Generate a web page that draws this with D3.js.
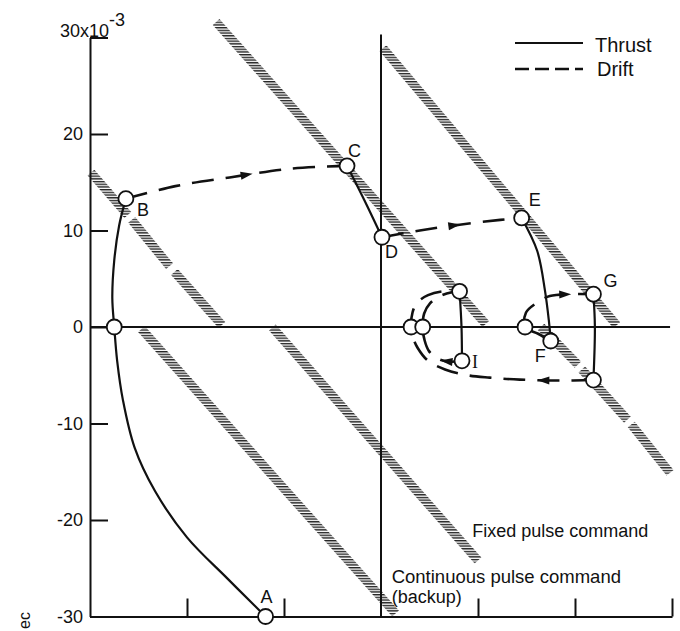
<!DOCTYPE html>
<html>
<head>
  <meta charset="UTF-8">
  <style>
    body { margin: 0; background: #fff; }
    svg { display: block; }
    text { font-family: "Liberation Sans", Arial, sans-serif; fill: #111; }
    .axis path, .axis line { stroke: #111; stroke-width: 2px; }
    .thrust { fill: none; stroke: #111; stroke-width: 2.2px; }
    .drift { fill: none; stroke: #111; stroke-width: 2.6px; stroke-dasharray: 22 12; }
    .pt { fill: #fff; stroke: #111; stroke-width: 1.8px; }
  </style>
</head>
<body>
  <svg width="680" height="631"></svg>
  <script src="https://cdn.jsdelivr.net/npm/d3@7"></script>
  <script>
    // ticks
    const xTicks = [-20, -10, 10, 20, 30];
    const yTicks = [-30, -20, -10, 0, 10, 20, 30];
    const yTickLabels = ['-30', '-20', '-10', '0', '10', '20', ''];

    // thrust (solid) and drift (dashed) trajectories, units of 10^-3
    const thrustAB = [[-11.9, -30], [-12.5, -29.4], [-15.9, -26.0], [-20.0, -21.8], [-23.3, -17.0],
      [-25.4, -12.5], [-26.6, -7.6], [-27.2, -3.5], [-27.5, 0], [-27.7, 3.0], [-27.5, 6.9],
      [-27.0, 10.5], [-26.3, 13.3]];
    const driftBC = [[-26.3, 13.3], [-21.2, 14.6], [-15.6, 15.5], [-9.4, 16.4], [-3.5, 16.7]];
    const thrustCD = [[-3.5, 16.7], [-1.7, 13.1], [0.1, 9.3]];
    const driftDE = [[0.1, 9.3], [4.0, 10.0], [8.1, 10.6], [12.3, 11.1], [14.5, 11.3]];
    const thrustEF = [[14.5, 11.3], [16.1, 7.9], [16.9, 3.8], [17.3, 0.7], [17.5, -1.45]];
    const driftFG = [[17.5, -1.45], [16.2, -0.7], [14.85, 0], [14.95, 1.5], [15.9, 2.4],
      [17.4, 3.2], [19.5, 3.4], [21.9, 3.4]];
    const thrustG = [[21.9, 3.4], [22.05, 0], [21.9, -5.5]];
    const driftOuter = [[21.9, -5.5], [18.45, -5.55], [14.3, -5.45], [11.2, -5.25], [8.9, -5.0],
      [6.6, -4.4], [4.85, -3.5], [3.8, -2.2], [3.3, -1.1], [3.1, 0], [3.25, 1.5], [3.7, 2.5],
      [4.85, 3.3], [6.4, 3.7], [8.1, 3.7]];
    const thrustHI = [[8.1, 3.7], [8.3, 0], [8.35, -3.5]];
    const driftInner = [[8.35, -3.5], [7.1, -3.6], [5.9, -3.3], [4.95, -2.5], [4.5, -1.4],
      [4.3, 0], [4.45, 1.4], [5.05, 2.45], [6.1, 3.2], [7.3, 3.6], [8.1, 3.7]];

    // switching points (circles)
    const points = [[-11.9, -30], [-27.5, 0], [-26.3, 13.3], [-3.5, 16.7], [0.1, 9.3],
      [14.5, 11.3], [17.5, -1.45], [14.85, 0], [21.9, 3.4], [21.9, -5.5],
      [8.1, 3.7], [8.35, -3.5], [3.1, 0], [4.3, 0]];
    const pointNames = ['A', '', 'B', 'C', 'D', 'E', 'F', '', 'G', '', '', 'I', '', ''];

    // hatched switching lines (segments)
    const bands = [
      [[-29.9, 16.0], [-26.1, 11.6]], [[-25.7, 11.1], [-21.8, 6.3]], [[-21.3, 5.7], [-16.4, 0.2]],
      [[-24.7, -0.2], [1.5, -29.7]],
      [[-17.0, 31.6], [10.8, 0.3]],
      [[-11.2, -0.05], [10.0, -24.2]],
      [[0.2, 28.9], [24.3, 0.2]],
      [[16.5, 0], [20.3, -3.9]], [[20.7, -4.4], [25.4, -9.6]], [[25.8, -10.1], [29.8, -15.1]]
    ];

    const svg = d3.select('svg');
    const x = d3.scaleLinear().domain([-30, 30]).range([90, 672]);
    const y = d3.scaleLinear().domain([-30, 30]).range([616.5, 37.5]);

    // hatch pattern
    const pat = svg.append('defs').append('pattern')
      .attr('id', 'hatch').attr('patternUnits', 'userSpaceOnUse')
      .attr('width', 6).attr('height', 2.7);
    pat.append('rect').attr('width', 6).attr('height', 1.4).attr('fill', '#222');

    svg.append('g').selectAll('line').data(bands).enter().append('line')
      .attr('x1', d => x(d[0][0])).attr('y1', d => y(d[0][1]))
      .attr('x2', d => x(d[1][0])).attr('y2', d => y(d[1][1]))
      .attr('stroke', 'url(#hatch)').attr('stroke-width', 9);

    // axes
    svg.append('g').attr('class', 'axis')
      .attr('transform', `translate(${x(-30)},0)`)
      .call(d3.axisLeft(y).tickValues(yTicks).tickSizeInner(-18).tickSizeOuter(0)
        .tickPadding(7).tickFormat((d, i) => yTickLabels[i]))
      .call(g => g.selectAll('text').style('font-size', '18px').attr('fill', '#111')
        .style('font-family', '"Liberation Sans", Arial, sans-serif'));
    svg.append('g').attr('class', 'axis')
      .attr('transform', `translate(0,${y(-30)})`)
      .call(d3.axisBottom(x).tickValues(xTicks).tickSizeInner(-18).tickSizeOuter(0).tickFormat(''));

    // zero lines
    svg.append('line').attr('x1', x(-30)).attr('x2', x(29.8)).attr('y1', y(0)).attr('y2', y(0))
      .attr('stroke', '#111').attr('stroke-width', 2);
    svg.append('line').attr('x1', x(0)).attr('x2', x(0)).attr('y1', y(30.3)).attr('y2', y(-30))
      .attr('stroke', '#111').attr('stroke-width', 2);

    // top label 30x10^-3
    const topLabel = svg.append('text').attr('x', x(-30) - 30).attr('y', y(30) - 1)
      .style('font-size', '18px');
    topLabel.append('tspan').text('30x10');
    topLabel.append('tspan').attr('dy', -11).text('-3');

    svg.append('text').attr('transform', `translate(30,${y(-30) + 4}) rotate(-90)`)
      .attr('text-anchor', 'middle').style('font-size', '16px').text('ec');

    const line = d3.line().x(d => x(d[0])).y(d => y(d[1])).curve(d3.curveCatmullRom.alpha(0.5));

    [thrustAB, thrustCD, thrustEF, thrustG, thrustHI].forEach(p =>
      svg.append('path').attr('class', 'thrust').attr('d', line(p)));

    // drift paths with an arrowhead at a fraction of the length
    const drifts = [[driftBC, 0.55], [driftDE, 0.52], [driftFG, 0.76], [driftOuter, 0.18], [driftInner, 0.13]];
    drifts.forEach(([p, f]) => {
      const path = svg.append('path').attr('class', 'drift').attr('d', line(p));
      const node = path.node();
      const L = node.getTotalLength();
      const p1 = node.getPointAtLength(L * f);
      const p0 = node.getPointAtLength(L * f - 3);
      const a = Math.atan2(p1.y - p0.y, p1.x - p0.x) * 180 / Math.PI;
      svg.append('path').attr('d', 'M6,0 L-6,-4 L-6,4 Z').attr('fill', '#111')
        .attr('transform', `translate(${p1.x},${p1.y}) rotate(${a})`);
    });

    svg.append('g').selectAll('circle').data(points).enter().append('circle')
      .attr('class', 'pt').attr('r', 7.5)
      .attr('cx', d => x(d[0])).attr('cy', d => y(d[1]));

    // point labels (offsets in px)
    const offs = { A: [-5, -14], B: [11, 17], C: [1, -9], D: [3, 21], E: [7, -12], F: [-16, 21], G: [10, -7], I: [10, 7] };
    svg.append('g').selectAll('text').data(points.map((p, i) => [p, pointNames[i]]).filter(d => d[1]))
      .enter().append('text')
      .attr('x', d => x(d[0][0]) + offs[d[1]][0]).attr('y', d => y(d[0][1]) + offs[d[1]][1])
      .style('font-size', '18px')
      .style('font-family', d => d[1] === 'I' ? '"Liberation Serif", serif' : null)
      .text(d => d[1]);

    // annotations
    svg.append('text').attr('x', x(9.4)).attr('y', y(-21.75)).style('font-size', '18px').text('Fixed pulse command');
    svg.append('text').attr('x', x(1.1)).attr('y', y(-26.5)).style('font-size', '18.5px').text('Continuous pulse command');
    svg.append('text').attr('x', x(1.1)).attr('y', y(-28.6)).style('font-size', '18px').text('(backup)');

    // legend
    const lg = svg.append('g');
    lg.append('line').attr('x1', 515).attr('x2', 583).attr('y1', 43).attr('y2', 43)
      .attr('stroke', '#111').attr('stroke-width', 2.2);
    lg.append('line').attr('x1', 515).attr('x2', 583).attr('y1', 69).attr('y2', 69)
      .attr('stroke', '#111').attr('stroke-width', 2.6).attr('stroke-dasharray', '14 6');
    lg.append('text').attr('x', 595).attr('y', 52).style('font-size', '20px').text('Thrust');
    lg.append('text').attr('x', 597).attr('y', 76).style('font-size', '20px').text('Drift');
  </script>
</body>
</html>
